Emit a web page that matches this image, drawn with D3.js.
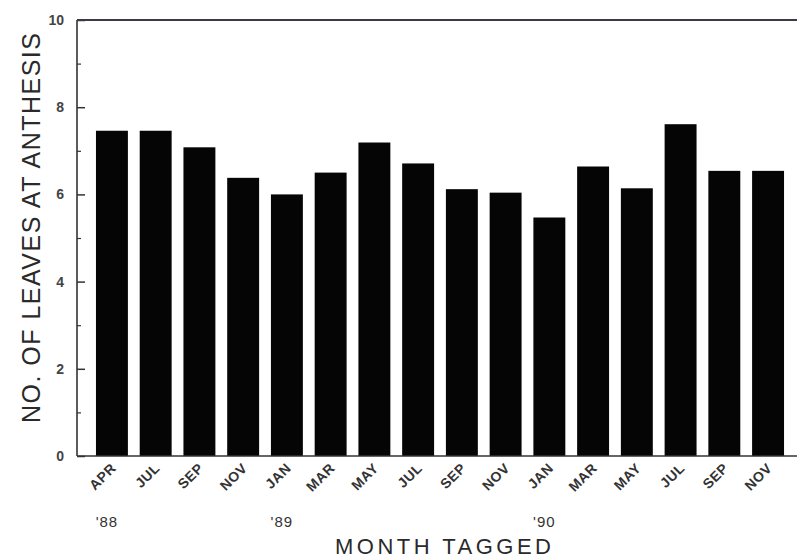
<!DOCTYPE html>
<html>
<head>
<meta charset="utf-8">
<script src="https://cdn.jsdelivr.net/npm/d3@7"></script>
<style>
  html, body { margin: 0; padding: 0; background: #fff; }
  svg { display: block; font-family: "Liberation Sans", Arial, Helvetica, sans-serif; }
</style>
</head>
<body>
<svg id="chart" width="797" height="559"></svg>
<script>
// Month each batch of plants was tagged, in order
const months = ["APR", "JUL", "SEP", "NOV", "JAN", "MAR", "MAY", "JUL", "SEP", "NOV", "JAN", "MAR", "MAY", "JUL", "SEP", "NOV"];
// Mean number of leaves at anthesis for each batch
const leaves = [7.46, 7.46, 7.08, 6.38, 6.00, 6.50, 7.19, 6.71, 6.12, 6.04, 5.47, 6.64, 6.14, 7.61, 6.54, 6.54];
// Year markers shown under the first month of each year
const yearMarks = [
  { index: 0, label: "'88" },
  { index: 4, label: "'89" },
  { index: 10, label: "'90" }
];
const yTicks = [0, 2, 4, 6, 8, 10];
const yMinorTicks = [1, 3, 5, 7, 9];

const svg = d3.select("#chart");
const axisColor = "#333";
const textColor = "#2a2a2a";

const plotLeft = 77, plotTop = 20, plotBottom = 456, plotRight = 797;

const x = d3.scaleBand()
  .domain(d3.range(months.length))
  .range([80, 800])
  .paddingInner(0.27)
  .paddingOuter(0.365);

const y = d3.scaleLinear().domain([0, 10]).range([plotBottom, plotTop]);

// Bars
svg.append("g")
  .selectAll("rect")
  .data(leaves)
  .join("rect")
  .attr("x", (d, i) => x(i))
  .attr("y", d => y(d))
  .attr("width", x.bandwidth())
  .attr("height", d => y(0) - y(d))
  .attr("fill", "#050505");

// Left axis with major and minor ticks pointing inward
const yAxis = d3.axisRight(y).tickValues(yTicks).tickSize(8).tickFormat("");
const gy = svg.append("g").attr("transform", `translate(${plotLeft},0)`).call(yAxis);
gy.select(".domain").remove();
gy.selectAll(".tick line").attr("stroke", axisColor).attr("stroke-width", 1.5);

const yMinor = d3.axisRight(y).tickValues(yMinorTicks).tickSize(4).tickFormat("");
const gym = svg.append("g").attr("transform", `translate(${plotLeft},0)`).call(yMinor);
gym.select(".domain").remove();
gym.selectAll(".tick line").attr("stroke", axisColor).attr("stroke-width", 1.2);

svg.append("line")
  .attr("x1", plotLeft).attr("x2", plotLeft)
  .attr("y1", y(10)).attr("y2", y(0))
  .attr("stroke", axisColor).attr("stroke-width", 1.6);

// Frame top and baseline
svg.append("line")
  .attr("x1", plotLeft).attr("x2", plotRight)
  .attr("y1", y(10)).attr("y2", y(10))
  .attr("stroke", "#3a3a4a").attr("stroke-width", 2.2);
svg.append("line")
  .attr("x1", plotLeft).attr("x2", plotRight)
  .attr("y1", y(0)).attr("y2", y(0))
  .attr("stroke", axisColor).attr("stroke-width", 1.6);

// Y tick labels
svg.append("g")
  .selectAll("text")
  .data(yTicks)
  .join("text")
  .attr("x", 64)
  .attr("y", d => y(d))
  .attr("dy", "0.35em")
  .attr("text-anchor", "end")
  .attr("font-size", 14)
  .attr("font-weight", "bold")
  .attr("fill", "#444")
  .text(d => d);

// Y axis title
svg.append("text")
  .attr("transform", `translate(40,${(plotTop + plotBottom) / 2 - 10}) rotate(-90)`)
  .attr("text-anchor", "middle")
  .attr("font-size", 25)
  .attr("textLength", 390)
  .attr("lengthAdjust", "spacing")
  .attr("fill", textColor)
  .text("NO. OF LEAVES AT ANTHESIS");

// Month labels, slanted
svg.append("g")
  .selectAll("text")
  .data(months)
  .join("text")
  .attr("transform", (d, i) => `translate(${x(i) + x.bandwidth() / 2 + 5},${plotBottom + 13}) rotate(-45)`)
  .attr("text-anchor", "end")
  .attr("font-size", 14)
  .attr("font-weight", "bold")
  .attr("letter-spacing", 0.5)
  .attr("fill", "#333")
  .text(d => d);

// Year labels
svg.append("g")
  .selectAll("text")
  .data(yearMarks)
  .join("text")
  .attr("x", d => x(d.index) + x.bandwidth() / 2 - 5)
  .attr("y", 527)
  .attr("text-anchor", "middle")
  .attr("font-size", 15)
  .attr("letter-spacing", 1)
  .attr("fill", "#333")
  .text(d => d.label);

// X axis title
svg.append("text")
  .attr("x", 443)
  .attr("y", 554)
  .attr("text-anchor", "middle")
  .attr("font-size", 22)
  .attr("textLength", 216)
  .attr("lengthAdjust", "spacing")
  .attr("fill", textColor)
  .text("MONTH TAGGED");
</script>
</body>
</html>
